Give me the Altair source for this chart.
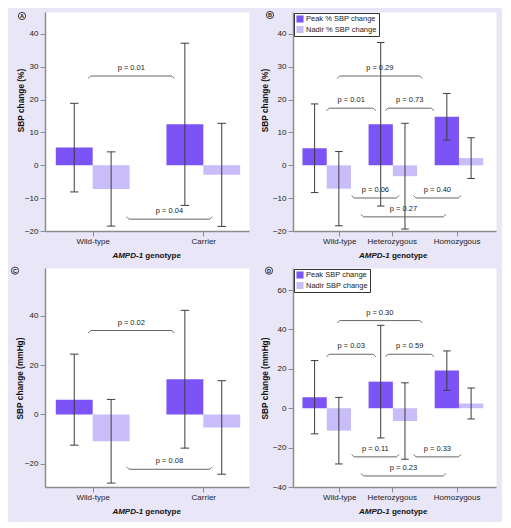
import altair as alt
import pandas as pd

# ---------------- data ----------------
two_groups = ["Wild-type", "Carrier"]
three_groups = ["Wild-type", "Heterozygous", "Homozygous"]

# Panel A: % SBP change, two genotype groups (mean, SD)
a_peak_mean = [5.4, 12.5]
a_peak_sd = [13.5, 24.7]
a_nadir_mean = [-7.2, -2.9]
a_nadir_sd = [11.3, 15.7]
a_pvals = ["p = 0.01", "p = 0.04"]

# Panel B: % SBP change, three genotype groups
b_peak_mean = [5.2, 12.5, 14.8]
b_peak_sd = [13.5, 24.9, 7.1]
b_nadir_mean = [-7.1, -3.3, 2.2]
b_nadir_sd = [11.3, 16.1, 6.2]
b_pvals = ["p = 0.29", "p = 0.01", "p = 0.73", "p = 0.06", "p = 0.40", "p = 0.27"]

# Panel C: SBP change in mmHg, two groups
c_peak_mean = [6.0, 14.3]
c_peak_sd = [18.5, 28.0]
c_nadir_mean = [-10.9, -5.3]
c_nadir_sd = [17.0, 19.0]
c_pvals = ["p = 0.02", "p = 0.08"]

# Panel D: SBP change in mmHg, three groups
d_peak_mean = [5.6, 13.5, 19.1]
d_peak_sd = [18.6, 28.6, 10.0]
d_nadir_mean = [-11.4, -6.5, 2.4]
d_nadir_sd = [16.9, 19.4, 7.85]
d_pvals = ["p = 0.30", "p = 0.03", "p = 0.59", "p = 0.11", "p = 0.33", "p = 0.23"]

pct_series = ["Peak % SBP change", "Nadir % SBP change"]
mmhg_series = ["Peak SBP change", "Nadir SBP change"]

# ---------------- layout (annotation positions, not data) ----------------
# brackets: (x start, x end in group units, y level in data units, opening)
a_brackets = [(-0.04, 0.738, 27.2, "down"), (0.307, 1.08, -16.4, "up")]
c_brackets = [(-0.04, 0.738, 34.1, "down"), (0.307, 1.08, -22.3, "up")]
b_brackets = [(0.16, 1.445, 27.2, "down"), (0.0, 0.74, 17.4, "down"), (0.89, 1.62, 17.4, "down"),
              (0.378, 1.093, -9.95, "up"), (1.315, 2.03, -9.95, "up"), (0.52, 1.80, -15.7, "up")]
d_brackets = [(0.16, 1.445, 44.5, "down"), (0.0, 0.74, 27.4, "down"), (0.89, 1.62, 27.4, "down"),
              (0.378, 1.093, -24.7, "up"), (1.315, 2.03, -24.7, "up"), (0.52, 1.80, -34.4, "up")]

two_tick_pos = [0, 1]
three_tick_pos = [0.19, 0.983, 1.965]

PEAK = "#7B53F6"
NADIR = "#C8BDF8"
BG = "#E9E6F8"
FONT = "Liberation Sans"


def build_panel(cats, peak_m, peak_sd, nadir_m, nadir_sd, names, pvals, brackets,
                tick_pos, xdom, ydom, yticks, ytitle, width, height, bw, cap,
                letter, letter_xy, ytitle_xy, xtitle_xy, legend_on):
    rows = []
    for i, c in enumerate(cats):
        rows.append(dict(series=names[0], x0=i - bw, x1=i, xc=i - bw / 2, mean=peak_m[i],
                         lo=peak_m[i] - peak_sd[i], hi=peak_m[i] + peak_sd[i]))
        rows.append(dict(series=names[1], x0=i, x1=i + bw, xc=i + bw / 2, mean=nadir_m[i],
                         lo=nadir_m[i] - nadir_sd[i], hi=nadir_m[i] + nadir_sd[i]))
    bars = pd.DataFrame(rows)
    caps = pd.concat([
        bars[["xc", "lo"]].rename(columns={"lo": "val"}),
        bars[["xc", "hi"]].rename(columns={"hi": "val"}),
    ])

    pyu = height / (ydom[1] - ydom[0])
    pxu = width / (xdom[1] - xdom[0])
    d = 2.5 / pyu
    e = 3.0 / pxu
    brows, trows = [], []
    for k, (x1, x2, y, op) in enumerate(brackets):
        s = -1 if op == "down" else 1
        pts = [(x1, y + s * d), (x1 + e, y), (x2 - e, y), (x2, y + s * d)]
        for j, (px, py) in enumerate(pts):
            brows.append(dict(bid=k, ord=j, bx=px, by=py))
        trows.append(dict(xm=(x1 + x2) / 2, ty=y, label=pvals[k]))
    bdf = pd.DataFrame(brows)
    tdf = pd.DataFrame(trows)

    expr = "''"
    for t, c in reversed(list(zip(tick_pos, cats))):
        expr = f"datum.value == {t} ? '{c}' : ({expr})"

    xaxis = alt.Axis(values=tick_pos, labelExpr=expr, title=None, grid=False,
                     labelPadding=1, labelOverlap=False, labelFlush=False)
    yaxis = alt.Axis(values=yticks, title=ytitle, grid=False, labelPadding=2,
                     titleX=ytitle_xy[0], titleY=ytitle_xy[1], titleBaseline="middle")
    xs = alt.Scale(domain=xdom, nice=False, zero=False)
    ys = alt.Scale(domain=ydom, nice=False, zero=False)

    if legend_on:
        leg = alt.Legend(orient="none", legendX=1, legendY=1, title=None, strokeColor="#333333",
                         fillColor="white", padding=2, symbolType="square", symbolSize=50,
                         symbolStrokeWidth=0, labelFontSize=7.5, labelFont=FONT, rowPadding=2.5,
                         labelOffset=2, labelColor="#222222", symbolOpacity=1)
    else:
        leg = None

    base_bars = alt.Chart(bars).mark_bar(opacity=1).encode(
        x=alt.X("x0:Q", scale=xs, axis=xaxis),
        x2="x1",
        y=alt.Y("mean:Q", scale=ys, axis=yaxis),
        y2=alt.datum(0),
        color=alt.Color("series:N", scale=alt.Scale(domain=names, range=[PEAK, NADIR]), legend=leg),
    )
    err = alt.Chart(bars).mark_rule(color="#3c3c3c", strokeWidth=1).encode(
        x=alt.X("xc:Q", scale=xs, axis=xaxis),
        y=alt.Y("lo:Q", scale=ys, axis=yaxis),
        y2="hi",
    )
    capm = alt.Chart(caps).mark_tick(orient="horizontal", size=cap, thickness=1, color="#3c3c3c", opacity=1).encode(
        x=alt.X("xc:Q", scale=xs, axis=xaxis),
        y=alt.Y("val:Q", scale=ys, axis=yaxis),
    )
    br = alt.Chart(bdf).mark_line(color="#555555", strokeWidth=0.9, interpolate="monotone").encode(
        x=alt.X("bx:Q", scale=xs, axis=xaxis),
        y=alt.Y("by:Q", scale=ys, axis=yaxis),
        detail="bid:N",
        order="ord:Q",
    )
    ptxt = alt.Chart(tdf).mark_text(fontSize=7.5, font=FONT, color="#222222", dy=-8, baseline="middle").encode(
        x=alt.X("xm:Q", scale=xs, axis=xaxis),
        y=alt.Y("ty:Q", scale=ys, axis=yaxis),
        text="label:N",
    )
    one = pd.DataFrame({"letter": [letter]})
    circ = alt.Chart(one).mark_point(shape="circle", filled=False, size=52, color="#111111",
                                     strokeWidth=0.8, opacity=1).encode(
        x=alt.value(letter_xy[0]), y=alt.value(letter_xy[1]))
    ltxt = alt.Chart(one).mark_text(fontSize=5.5, fontWeight="bold", font=FONT, color="#111111",
                                    baseline="middle", align="center").encode(
        x=alt.value(letter_xy[0]), y=alt.value(letter_xy[1] + 0.3), text="letter:N")
    xt1 = alt.Chart(pd.DataFrame({"t": ["AMPD-1"]})).mark_text(
        fontSize=8, fontWeight="bold", fontStyle="italic", font=FONT, color="#111111",
        align="right", baseline="middle").encode(
        x=alt.value(xtitle_xy[0] - 3.6), y=alt.value(xtitle_xy[1]), text="t:N")
    xt2 = alt.Chart(pd.DataFrame({"t": ["genotype"]})).mark_text(
        fontSize=8, fontWeight="bold", font=FONT, color="#111111",
        align="left", baseline="middle").encode(
        x=alt.value(xtitle_xy[0] - 1.4), y=alt.value(xtitle_xy[1]), text="t:N")

    return alt.layer(base_bars, err, capm, br, ptxt, circ, ltxt, xt1, xt2).properties(
        width=width, height=height)


panel_a = build_panel(two_groups, a_peak_mean, a_peak_sd, a_nadir_mean, a_nadir_sd, pct_series,
                      a_pvals, a_brackets, two_tick_pos, [-0.431, 1.413], [-20, 46.7],
                      [-20, -10, 0, 10, 20, 30, 40], "SBP change (%)", 204, 219, 1 / 3, 8.5,
                      "A", (-23, 4), (-23.3, 88), (101.7, 244), False)
panel_b = build_panel(three_groups, b_peak_mean, b_peak_sd, b_nadir_mean, b_nadir_sd, pct_series,
                      b_pvals, b_brackets, three_tick_pos, [-0.51, 2.56], [-20, 46.7],
                      [-20, -10, 0, 10, 20, 30, 40], "SBP change (%)", 203, 219, 0.367, 7.5,
                      "B", (-23, 3), (-28, 88), (100.3, 244), True)
panel_c = build_panel(two_groups, c_peak_mean, c_peak_sd, c_nadir_mean, c_nadir_sd, mmhg_series,
                      c_pvals, c_brackets, two_tick_pos, [-0.431, 1.413], [-29.5, 59.5],
                      [-20, 0, 20, 40], "SBP change (mmHg)", 204, 219, 1 / 3, 8.5,
                      "C", (-30, 2.7), (-24.3, 110), (101.7, 244.3), False)
panel_d = build_panel(three_groups, d_peak_mean, d_peak_sd, d_nadir_mean, d_nadir_sd, mmhg_series,
                      d_pvals, d_brackets, three_tick_pos, [-0.51, 2.56], [-40, 71.2],
                      [-40, -20, 0, 20, 40, 60], "SBP change (mmHg)", 203, 219, 0.367, 7.5,
                      "D", (-24, 2.7), (-28, 110), (100.3, 244.3), True)

chart = alt.concat(
    panel_a, panel_b, panel_c, panel_d,
    columns=2, spacing={"row": 37, "column": 44}, bounds="flush"
).resolve_scale(
    color="independent", x="independent", y="independent"
).configure(
    background=BG, padding={"left": 1, "top": 1, "right": 5, "bottom": 5}, font=FONT
).configure_view(
    fill="white", stroke="transparent"
).configure_axis(
    domainColor="#8c8c8c", domainWidth=1.5, tickColor="#8c8c8c", tickSize=5, tickWidth=1,
    labelFontSize=8, labelColor="#222222", labelFont=FONT,
    titleFontSize=8.3, titleFontWeight="bold", titleColor="#111111", titleFont=FONT
)

chart.save("out.html", embed_options={"renderer": "svg", "actions": False})
